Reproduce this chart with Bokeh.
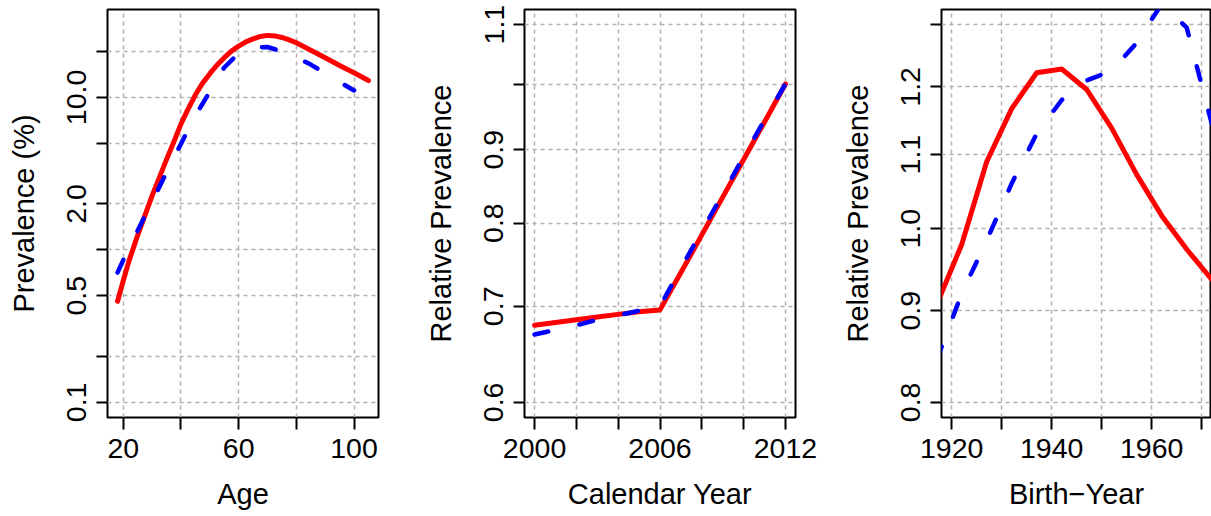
from bokeh.plotting import figure
from bokeh.models import Range1d, FixedTicker
from bokeh.layouts import row
from bokeh.embed import file_html
from bokeh.resources import INLINE
import math

# ---------------- data ----------------
# Panel 1: prevalence by age (log scale)
age_red = [18, 20, 22, 25, 30, 35, 37.5, 40, 42.5, 45, 47.5, 50, 52.5, 55, 57.5, 60, 62.5, 65, 67.5,
           70, 72.5, 75, 77.5, 80, 85, 90, 95, 100, 105]
prev_red = [0.46, 0.63, 0.85, 1.25, 2.27, 3.92, 5.1, 6.7, 8.4, 10.4, 12.4, 14.3, 16.3, 18.2, 20.1, 21.7, 23.1, 24.2, 25.1,
            25.5, 25.3, 24.7, 23.8, 22.8, 20.4, 18.2, 16.2, 14.5, 12.9]
age_blue = [18, 20, 25, 30, 35, 40, 45, 50, 55, 60, 65, 70, 75, 80, 85, 90, 95, 100]
prev_blue = [0.71, 0.86, 1.34, 2.08, 3.22, 4.97, 7.6, 10.9, 15.7, 19.5, 21.2, 21.4, 20.0, 18.3, 16.4, 14.4, 12.6, 11.1]

# Panel 2: relative prevalence by calendar year
year = [2000, 2001, 2002, 2003, 2004, 2005, 2006, 2007, 2008, 2009, 2010, 2011, 2012]
rel_red = [0.679, 0.682, 0.685, 0.688, 0.691, 0.694, 0.696, 0.739, 0.785, 0.834, 0.886, 0.941, 1.0]
rel_blue = [0.669, 0.674, 0.679, 0.685, 0.690, 0.695, 0.700, 0.744, 0.790, 0.838, 0.890, 0.944, 1.0]

# Panel 3: relative prevalence by birth year
birth = [1917, 1922, 1927, 1932, 1937, 1942, 1947, 1952, 1957, 1962, 1967, 1972]
coh_red = [0.907, 0.98, 1.09, 1.167, 1.222, 1.228, 1.196, 1.138, 1.072, 1.017, 0.974, 0.937]
coh_blue = [0.845, 0.92, 0.985, 1.06, 1.13, 1.18, 1.21, 1.225, 1.27, 1.335, 1.295, 1.145]

# ticks and tick labels ("" = label dropped, as in the original)
age_ticks = [20, 40, 60, 80, 100]
age_labels = ["20", "", "60", "", "100"]
prev_ticks = [0.1, 0.2, 0.5, 1.0, 2.0, 5.0, 10.0, 20.0]
prev_labels = ["0.1", "", "0.5", "", "2.0", "", "10.0", ""]
year_ticks = [2000, 2002, 2004, 2006, 2008, 2010, 2012]
year_labels = ["2000", "", "", "2006", "", "", "2012"]
rel_ticks = [0.6, 0.7, 0.8, 0.9, 1.0, 1.1]
rel_labels = ["0.6", "0.7", "0.8", "0.9", "", "1.1"]
birth_ticks = [1920, 1930, 1940, 1950, 1960, 1970]
birth_labels = ["1920", "", "1940", "", "1960", ""]
coh_ticks = [0.8, 0.9, 1.0, 1.1, 1.2, 1.3]
coh_labels = ["0.8", "0.9", "1.0", "1.1", "1.2", ""]

FONT = "Liberation Sans"


def r_range(lo, hi, log=False):
    if log:
        a, b = math.log10(lo), math.log10(hi)
        d = (b - a) * 0.04
        return Range1d(10 ** (a - d), 10 ** (b + d))
    d = (hi - lo) * 0.04
    return Range1d(lo - d, hi + d)


def make_panel(xr, yr, xlab, ylab, xt, xl, yt, yl, left, right, fw):
    p = figure(frame_width=fw, frame_height=408, x_range=xr, y_range=yr,
               y_axis_type="log", output_backend="svg", toolbar_location=None,
               min_border_left=left, min_border_right=right,
               min_border_top=9, min_border_bottom=0)
    p.outline_line_color = "black"
    p.outline_line_width = 2
    p.background_fill_color = "white"
    p.border_fill_color = "white"

    p.xaxis.ticker = FixedTicker(ticks=xt)
    p.yaxis.ticker = FixedTicker(ticks=yt)
    p.xaxis.major_label_overrides = {t: s for t, s in zip(xt, xl)}
    p.yaxis.major_label_overrides = {t: s for t, s in zip(yt, yl)}
    p.yaxis.major_label_orientation = "vertical"
    p.xaxis.axis_label = xlab
    p.yaxis.axis_label = ylab
    for ax in (p.xaxis, p.yaxis):
        ax.axis_line_color = None
        ax.major_tick_line_color = "black"
        ax.major_tick_line_width = 2
        ax.major_tick_in = 0
        ax.minor_tick_line_color = None
        ax.major_label_text_font = FONT
        ax.major_label_text_font_size = "28.5px"
        ax.major_label_text_color = "black"
        ax.axis_label_text_font = FONT
        ax.axis_label_text_font_size = "29px"
        ax.axis_label_text_font_style = "normal"
        ax.axis_label_text_color = "black"
    p.xaxis.major_tick_out = 12
    p.xaxis.major_label_standoff = 9
    p.xaxis.axis_label_standoff = 17
    p.yaxis.major_tick_out = 11
    p.yaxis.major_label_standoff = 10
    p.yaxis.axis_label_standoff = 25

    for g in (p.xgrid, p.ygrid):
        g.grid_line_color = "#b0b0b0"
        g.grid_line_width = 1.5
        g.grid_line_dash = "4 4"
    p.xgrid.ticker = FixedTicker(ticks=xt)
    p.ygrid.ticker = FixedTicker(ticks=yt)
    return p


p1 = make_panel(r_range(18, 105), r_range(0.1, 30, log=True), "Age", "Prevalence (%)",
                age_ticks, age_labels, prev_ticks, prev_labels, 107, 42, 271)
p1.line(age_red, prev_red, line_color="red", line_width=5, line_join="round", line_cap="round")
p1.line(age_blue, prev_blue, line_color="blue", line_width=4.5, line_dash="14 32",
        line_join="round", line_cap="round")

p2 = make_panel(r_range(2000, 2012), r_range(0.6, 1.1, log=True), "Calendar Year", "Relative Prevalence",
                year_ticks, year_labels, rel_ticks, rel_labels, 104, 41, 271)
p2.line(year, rel_red, line_color="red", line_width=5, line_join="round", line_cap="round")
p2.line(year, rel_blue, line_color="blue", line_width=4.5, line_dash="14 32",
        line_join="round", line_cap="round")

p3 = make_panel(Range1d(1917.96, 1971.96), r_range(0.8, 1.3, log=True), "Birth\u2212Year", "Relative Prevalence",
                birth_ticks, birth_labels, coh_ticks, coh_labels, 105, 0, 270)
p3.line(birth, coh_red, line_color="red", line_width=5, line_join="round", line_cap="round")
p3.line(birth, coh_blue, line_color="blue", line_width=4.5, line_dash="14 32",
        line_join="round", line_cap="round")

layout = row(p1, p2, p3)
open("out.html", "w").write(file_html(layout, INLINE))
